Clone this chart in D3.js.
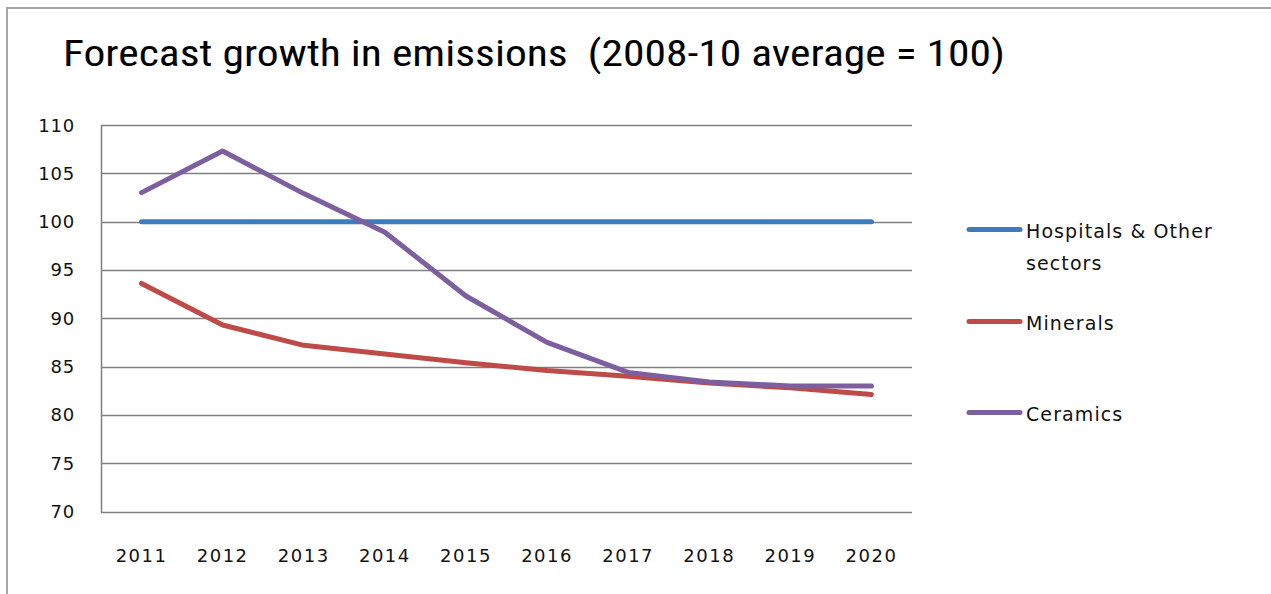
<!DOCTYPE html>
<html>
<head>
<meta charset="utf-8">
<script src="https://cdn.jsdelivr.net/npm/d3@7"></script>
<style>
  body { margin: 0; background: #fff; }
  text { fill: #111; }
</style>
</head>
<body>
<svg width="1271" height="594"></svg>
<script>
"use strict";

// chart data
var years = ["2011", "2012", "2013", "2014", "2015", "2016", "2017", "2018", "2019", "2020"];
var hospitals = [100, 100, 100, 100, 100, 100, 100, 100, 100, 100];
var minerals = [93.6, 89.3, 87.2, 86.3, 85.4, 84.6, 84.0, 83.3, 82.8, 82.1];
var ceramics = [103.0, 107.3, 102.9, 98.9, 92.3, 87.5, 84.4, 83.4, 83.0, 83.0];
var yTicks = [70, 75, 80, 85, 90, 95, 100, 105, 110];
var seriesNames = ["Hospitals & Other sectors", "Minerals", "Ceramics"];
var seriesColors = ["#3e7bbf", "#be4b48", "#7d5fa0"];

var series = [hospitals, minerals, ceramics];

var svg = d3.select("svg"),
    width = +svg.attr("width"),
    height = +svg.attr("height");

var plot = { left: 101, right: 912, top: 125, bottom: 511.5 };

// outer chart border
svg.append("rect")
  .attr("x", 7).attr("y", 8)
  .attr("width", width + 20).attr("height", height + 20)
  .attr("fill", "none").attr("stroke", "#a6a6a6").attr("stroke-width", 2);

// title
svg.append("text")
  .attr("x", 63).attr("y", 66)
  .attr("textLength", 942).attr("lengthAdjust", "spacingAndGlyphs")
  .style("white-space", "pre")
  .style("font-family", "'Liberation Sans Narrow', 'Roboto Condensed', 'Open Sans', sans-serif")
  .style("font-size", "36px")
  .style("fill", "#000")
  .text("Forecast growth in emissions  (2008-10 average = 100)");

var x = d3.scaleBand().domain(years).range([plot.left, plot.right]);
var y = d3.scaleLinear().domain([70, 110]).range([plot.bottom, plot.top]);

// gridlines
svg.append("g").selectAll("line").data(yTicks).enter().append("line")
  .attr("x1", plot.left).attr("x2", plot.right)
  .attr("y1", function (d) { return Math.round(y(d)) + 0.5; })
  .attr("y2", function (d) { return Math.round(y(d)) + 0.5; })
  .attr("stroke", "#7f7f7f").attr("stroke-width", 1.5);

// left axis line
svg.append("line")
  .attr("x1", plot.left + 0.5).attr("x2", plot.left + 0.5)
  .attr("y1", y(110)).attr("y2", y(70) + 1)
  .attr("stroke", "#7f7f7f").attr("stroke-width", 1.5);

// y tick labels
svg.append("g").selectAll("text").data(yTicks).enter().append("text")
  .attr("x", 75)
  .attr("y", function (d) { return y(d) + 6.5; })
  .attr("text-anchor", "end")
  .style("font-family", "'DejaVu Sans', Verdana, sans-serif")
  .style("font-size", "18px")
  .style("letter-spacing", "0.8px")
  .text(function (d) { return d; });

// x tick labels
svg.append("g").selectAll("text").data(years).enter().append("text")
  .attr("x", function (d) { return x(d) + x.bandwidth() / 2; })
  .attr("y", 562)
  .attr("text-anchor", "middle")
  .style("font-family", "'DejaVu Sans', Verdana, sans-serif")
  .style("font-size", "18px")
  .style("letter-spacing", "1.5px")
  .text(function (d) { return d; });

// series lines
var line = d3.line()
  .x(function (d, i) { return x(years[i]) + x.bandwidth() / 2; })
  .y(function (d) { return y(d); });

svg.append("g").selectAll("path").data(series).enter().append("path")
  .attr("d", line)
  .attr("fill", "none")
  .attr("stroke", function (d, i) { return seriesColors[i]; })
  .attr("stroke-width", 5)
  .attr("stroke-linejoin", "round")
  .attr("stroke-linecap", "round");

// legend
var legendY = [229.5, 321.5, 412.5];
var legend = svg.append("g").selectAll("g").data(seriesNames).enter().append("g")
  .attr("transform", function (d, i) { return "translate(0," + legendY[i] + ")"; });

legend.append("line")
  .attr("x1", 969).attr("x2", 1020)
  .attr("stroke", function (d, i) { return seriesColors[i]; })
  .attr("stroke-width", 5)
  .attr("stroke-linecap", "round");

legend.append("text")
  .attr("x", 1026)
  .attr("y", 8)
  .style("font-family", "'DejaVu Sans', Verdana, sans-serif")
  .style("font-size", "19px")
  .style("letter-spacing", "1.1px")
  .each(function (d) {
    var t = d3.select(this);
    var parts = d === "Hospitals & Other sectors" ? ["Hospitals & Other", "sectors"] : [d];
    parts.forEach(function (p, j) {
      t.append("tspan").attr("x", 1026).attr("dy", j === 0 ? 0 : 32).text(p);
    });
  });
</script>
</body>
</html>
